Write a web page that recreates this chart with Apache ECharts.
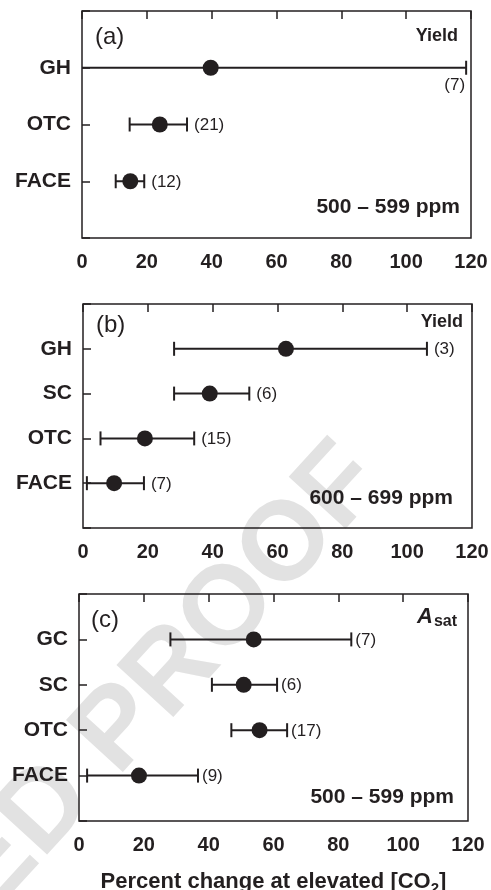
<!DOCTYPE html>
<html>
<head>
<meta charset="utf-8">
<script src="https://cdn.jsdelivr.net/npm/echarts@6/dist/echarts.min.js"></script>
<style>html,body{margin:0;padding:0;background:#fff}#c{width:491px;height:890px}</style>
</head>
<body>
<div id="c"></div>
<script>
// ---- data ----
const xTicks = [0, 20, 40, 60, 80, 100, 120];

const catsA = ['GH', 'OTC', 'FACE'];
const meanA = [39.7, 24.0, 14.9];
const lowA = [-10, 14.7, 10.4];
const highA = [118.5, 32.4, 19.2];
const nA = [7, 21, 12];

const catsB = ['GH', 'SC', 'OTC', 'FACE'];
const meanB = [62.6, 39.1, 19.1, 9.6];
const lowB = [28.1, 28.1, 5.4, 1.2];
const highB = [106.1, 51.3, 34.3, 18.8];
const nB = [3, 6, 15, 7];

const catsC = ['GC', 'SC', 'OTC', 'FACE'];
const meanC = [53.9, 50.8, 55.7, 18.5];
const lowC = [28.2, 41.0, 47.0, 2.5];
const highC = [84.0, 61.1, 64.2, 36.7];
const nC = [7, 6, 17, 9];

// ---- layout / style ----
const FONT = '"Liberation Sans", Arial, Helvetica, sans-serif';
const INK = '#231f20';
const panels = [
  { cats: catsA, mean: meanA, low: lowA, high: highA, n: nA, nPlace: ['below', 'right', 'right'], gap: 7,
    grid: { left: 82, top: 11, width: 389, height: 227 } },
  { cats: catsB, mean: meanB, low: lowB, high: highB, n: nB, nPlace: ['right', 'right', 'right', 'right'], gap: 7,
    grid: { left: 83, top: 304, width: 389, height: 224 } },
  { cats: catsC, mean: meanC, low: lowC, high: highC, n: nC, nPlace: ['right', 'right', 'right', 'right'], gap: 4,
    grid: { left: 79, top: 594, width: 389, height: 227 } }
];

const TICK = 4;
const grids = [], xAxes = [], yAxes = [], series = [];
panels.forEach((p, i) => {
  const k = p.cats.length;
  grids.push(Object.assign({ show: true, borderColor: INK, borderWidth: 1.5, backgroundColor: 'transparent',
    containLabel: false, outerBoundsMode: 'none' }, p.grid));
  const off = -TICK; // pull axis inside the frame so ticks point inward
  const mkTick = () => ({ show: true, inside: false, length: TICK, lineStyle: { color: INK, width: 1.5 } });
  xAxes.push({
    type: 'value', gridIndex: i, min: xTicks[0], max: xTicks[xTicks.length - 1], interval: 20,
    splitLine: { show: false }, axisLine: { show: false }, axisTick: mkTick(), offset: off,
    position: 'bottom',
    axisLabel: { show: true, margin: 14 - off, color: INK, fontFamily: FONT, fontWeight: 'bold', fontSize: 20 },
    name: i === 2 ? '{t|Percent change at elevated [CO}{s|2}{t|]}' : '',
    nameLocation: 'middle', nameGap: 47 - off,
    nameTextStyle: {
      rich: {
        t: { fontFamily: FONT, fontWeight: 'bold', fontSize: 22, color: INK },
        s: { fontFamily: FONT, fontWeight: 'bold', fontSize: 15, color: INK, verticalAlign: 'bottom', padding: [13, 0, 0, 0] }
      }
    }
  });
  xAxes.push({
    type: 'value', gridIndex: i, min: xTicks[0], max: xTicks[xTicks.length - 1], interval: 20,
    splitLine: { show: false }, axisLine: { show: false }, axisTick: mkTick(), offset: off,
    position: 'top', axisLabel: { show: false }
  });
  yAxes.push({
    type: 'value', gridIndex: i, min: 0, max: k + 1, interval: 1, inverse: true,
    splitLine: { show: false }, axisLine: { show: false }, axisTick: mkTick(), offset: off,
    position: 'left',
    axisLabel: {
      show: true, margin: 11 - off, color: INK, fontFamily: FONT, fontWeight: 'bold', fontSize: 21,
      formatter: v => p.cats[v - 1] || ''
    }
  });
  yAxes.push({
    type: 'value', gridIndex: i, min: 0, max: k + 1, interval: 1, inverse: true,
    splitLine: { show: false }, axisLine: { show: false }, axisTick: mkTick(), offset: off,
    position: 'right', axisLabel: { show: false }
  });

  const barData = p.cats.map((c, j) => [p.low[j], p.high[j], j + 1]);
  const ptData = p.cats.map((c, j) => [p.mean[j], j + 1]);
  const lblData = p.cats.map((c, j) => [p.high[j], j + 1, p.n[j], j]);

  series.push({
    type: 'custom', xAxisIndex: 2 * i, yAxisIndex: 2 * i, z: 3,
    encode: { x: [0, 1], y: 2 },
    data: barData,
    renderItem: (params, api) => {
      const cs = params.coordSys;
      const y = api.coord([0, api.value(2)])[1];
      const x1 = api.coord([api.value(0), 0])[0];
      const x2 = api.coord([api.value(1), 0])[0];
      const ch = [];
      const st = { stroke: INK, lineWidth: 2 };
      const xa = Math.max(x1, cs.x), xb = Math.min(x2, cs.x + cs.width);
      ch.push({ type: 'line', shape: { x1: xa, y1: y, x2: xb, y2: y }, style: st });
      if (x1 >= cs.x) ch.push({ type: 'line', shape: { x1: x1, y1: y - 7, x2: x1, y2: y + 7 }, style: st });
      if (x2 <= cs.x + cs.width) ch.push({ type: 'line', shape: { x1: x2, y1: y - 7, x2: x2, y2: y + 7 }, style: st });
      return { type: 'group', children: ch };
    }
  });
  series.push({
    type: 'scatter', xAxisIndex: 2 * i, yAxisIndex: 2 * i, z: 4,
    symbol: 'circle', symbolSize: 16, itemStyle: { color: INK, opacity: 1 },
    data: ptData, silent: true
  });
  series.push({
    type: 'custom', xAxisIndex: 2 * i, yAxisIndex: 2 * i, z: 5,
    encode: { x: 0, y: 1 },
    data: lblData,
    renderItem: (params, api) => {
      const pt = api.coord([api.value(0), api.value(1)]);
      const place = p.nPlace[api.value(3)];
      const txt = '(' + api.value(2) + ')';
      const font = '17px ' + FONT;
      if (place === 'below') {
        return { type: 'text', x: pt[0] - 1, y: pt[1] + 18,
          style: { text: txt, font: font, fill: INK, textAlign: 'right', textVerticalAlign: 'middle' } };
      }
      return { type: 'text', x: pt[0] + p.gap, y: pt[1] + 1,
        style: { text: txt, font: font, fill: INK, textAlign: 'left', textVerticalAlign: 'middle' } };
    }
  });
});

const tagFont = '24px ' + FONT;
const boldFont = s => 'bold ' + s + 'px ' + FONT;
const graphic = [
  { type: 'text', x: 364, y: 463, rotation: 0.829, z: -100, silent: true,
    style: { text: 'UNCORRECTED PROOF', font: boldFont(112), fill: '#e2e2e2', textAlign: 'right', textVerticalAlign: 'middle' } },
  { type: 'text', x: 95, y: 37, style: { text: '(a)', font: tagFont, fill: INK, textVerticalAlign: 'middle' } },
  { type: 'text', x: 96, y: 325, style: { text: '(b)', font: tagFont, fill: INK, textVerticalAlign: 'middle' } },
  { type: 'text', x: 91, y: 620, style: { text: '(c)', font: tagFont, fill: INK, textVerticalAlign: 'middle' } },
  { type: 'text', x: 458, y: 36, style: { text: 'Yield', font: boldFont(18), fill: INK, textAlign: 'right', textVerticalAlign: 'middle' } },
  { type: 'text', x: 463, y: 322, style: { text: 'Yield', font: boldFont(18), fill: INK, textAlign: 'right', textVerticalAlign: 'middle' } },
  { type: 'text', x: 457, y: 617, style: {
      text: '{a|A}{s|sat}', fill: INK, textAlign: 'right', textVerticalAlign: 'middle',
      rich: { a: { font: 'italic bold 22px ' + FONT, fill: INK },
              s: { font: boldFont(16), fill: INK, padding: [10, 0, 0, 1] } } } },
  { type: 'text', x: 460, y: 207, style: { text: '500 \u2013 599 ppm', font: boldFont(21), fill: INK, textAlign: 'right', textVerticalAlign: 'middle' } },
  { type: 'text', x: 453, y: 498, style: { text: '600 \u2013 699 ppm', font: boldFont(21), fill: INK, textAlign: 'right', textVerticalAlign: 'middle' } },
  { type: 'text', x: 454, y: 797, style: { text: '500 \u2013 599 ppm', font: boldFont(21), fill: INK, textAlign: 'right', textVerticalAlign: 'middle' } }
];

const chart = echarts.init(document.getElementById('c'), null, { renderer: 'canvas' });
chart.setOption({
  animation: false,
  backgroundColor: '#fff',
  grid: grids, xAxis: xAxes, yAxis: yAxes, series: series, graphic: graphic
});
</script>
</body>
</html>
